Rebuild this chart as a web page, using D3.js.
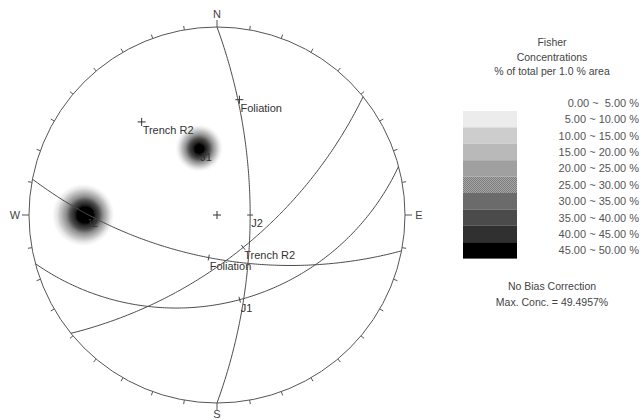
<!DOCTYPE html>
<html>
<head>
<meta charset="utf-8">
<script src="https://cdn.jsdelivr.net/npm/d3@7"></script>
<style>
    body { margin: 0; background: #fff; }
    text { font-family: "Liberation Sans", Arial, sans-serif; }
</style>
</head>
<body>
<div id="chart"></div>
<script>
// planes (dip direction / dip, degrees)
const planeNames = ["Foliation", "Trench R2", "J1", "J2"];
const planeDipDirs = [191, 141, 165, 90];
const planeDips = [64, 65, 40, 70];
// poles drawn as a cross (the others sit under the concentrations)
const poleCrossed = [true, true, false, false];

// pole concentrations
const clusterTrends = [345, 270];
const clusterPlunges = [50, 20];
const clusterPeaks = [47.5, 49.4957];
const clusterSpread = 9.0; // degrees

// legend
const binLower = [0, 5, 10, 15, 20, 25, 30, 35, 40, 45];
const binLabels = ["0.00 ~  5.00 %", "5.00 ~ 10.00 %", "10.00 ~ 15.00 %", "15.00 ~ 20.00 %",
    "20.00 ~ 25.00 %", "25.00 ~ 30.00 %", "30.00 ~ 35.00 %", "35.00 ~ 40.00 %",
    "40.00 ~ 45.00 %", "45.00 ~ 50.00 %"];
const binColors = ["#ffffff", "#ececec", "#cdcdcd", "#b9b9b9", "#a0a0a0", "url(#checker)",
    "#6b6b6b", "#4b4b4b", "#303030", "#000000"];
const legendTitle = ["Fisher", "Concentrations", "% of total per 1.0 % area"];
const legendNotes = ["No Bias Correction", "Max. Conc. = 49.4957%"];
const compass = [["N", 0], ["E", 90], ["S", 180], ["W", 270]];

const width = 641, height = 420;
const cx = 217, cy = 215, R = 188;
const rad = Math.PI / 180;

const svg = d3.select("#chart").append("svg")
    .attr("width", width)
    .attr("height", height)
    .style("display", "block");

const defs = svg.append("defs");
const pat = defs.append("pattern")
    .attr("id", "checker")
    .attr("width", 2).attr("height", 2)
    .attr("patternUnits", "userSpaceOnUse");
pat.append("rect").attr("width", 2).attr("height", 2).attr("fill", "#a6a6a6");
pat.append("rect").attr("width", 1).attr("height", 1).attr("fill", "#7c7c7c");
pat.append("rect").attr("x", 1).attr("y", 1).attr("width", 1).attr("height", 1).attr("fill", "#7c7c7c");
defs.append("filter").attr("id", "soft")
    .append("feGaussianBlur").attr("stdDeviation", 1.3);
defs.append("clipPath").attr("id", "net")
    .append("circle").attr("cx", cx).attr("cy", cy).attr("r", R);

// equal angle, lower hemisphere
const rScale = d3.scaleLinear().domain([0, 1]).range([0, R]);
function project(trend, plunge) {
    const r = rScale(Math.tan((90 - plunge) / 2 * rad));
    return [cx + r * Math.sin(trend * rad), cy - r * Math.cos(trend * rad)];
}

// concentration grid
const n = 2 * R + 1;
const x0 = cx - R, y0 = cy - R;
const cVecs = clusterTrends.map((t, i) => {
    const p = clusterPlunges[i] * rad;
    return [Math.cos(p) * Math.cos(t * rad), Math.cos(p) * Math.sin(t * rad), Math.sin(p)];
});
const values = new Float64Array(n * n);
for (let j = 0; j < n; j++) {
    for (let i = 0; i < n; i++) {
        const dx = rScale.invert(x0 + i + 0.5 - cx), dy = rScale.invert(cy - (y0 + j + 0.5));
        const r = Math.hypot(dx, dy);
        if (r > 1) continue;
        const phi = 2 * Math.atan(r);
        const s = r > 0 ? Math.sin(phi) / r : 0;
        const v = [s * dy, s * dx, Math.cos(phi)];
        let best = 0;
        cVecs.forEach((c, k) => {
            const d = Math.min(1, Math.abs(v[0] * c[0] + v[1] * c[1] + v[2] * c[2]));
            const th = Math.acos(d) / rad;
            best = Math.max(best, clusterPeaks[k] * Math.exp(-Math.pow(th / clusterSpread, 3)));
        });
        values[j * n + i] = best;
    }
}
const contours = d3.contours().size([n, n]).thresholds(binLower.slice(1))(values);
const color = d3.scaleThreshold().domain(binLower.slice(1)).range(binColors);

svg.append("g")
    .attr("clip-path", "url(#net)")
    .append("g")
    .attr("filter", "url(#soft)")
    .attr("transform", `translate(${x0},${y0})`)
    .selectAll("path")
    .data(contours)
    .join("path")
    .attr("d", d3.geoPath())
    .attr("fill", d => color(d.value));

// primitive circle and ticks
svg.append("circle")
    .attr("cx", cx).attr("cy", cy).attr("r", R)
    .attr("fill", "none").attr("stroke", "#555").attr("stroke-width", 1);

svg.append("g").selectAll("line")
    .data(d3.range(0, 360, 10))
    .join("line")
    .attr("x1", a => cx + R * Math.sin(a * rad))
    .attr("y1", a => cy - R * Math.cos(a * rad))
    .attr("x2", a => cx + (R + (a % 90 === 0 ? 7 : 4)) * Math.sin(a * rad))
    .attr("y2", a => cy - (R + (a % 90 === 0 ? 7 : 4)) * Math.cos(a * rad))
    .attr("stroke", "#555");

svg.append("g").selectAll("text")
    .data(compass)
    .join("text")
    .attr("x", d => cx + (R + 14) * Math.sin(d[1] * rad))
    .attr("y", d => d[0] === "S" ? 418 : cy - (R + 13) * Math.cos(d[1] * rad) + 4)
    .attr("text-anchor", "middle")
    .attr("font-size", 11)
    .attr("fill", "#444")
    .text(d => d[0]);

// centre cross
svg.append("path")
    .attr("d", `M${cx - 4},${cy}H${cx + 4}M${cx},${cy - 4}V${cy + 4}`)
    .attr("stroke", "#333");

// great circles
const line = d3.line();
planeNames.forEach((name, i) => {
    const dd = planeDipDirs[i], dip = planeDips[i] * rad, st = (dd - 90) * rad;
    const s = [Math.cos(st), Math.sin(st), 0];
    const d = [Math.cos(dip) * Math.cos(dd * rad), Math.cos(dip) * Math.sin(dd * rad), Math.sin(dip)];
    const pts = d3.range(0, 180.5, 1).map(a => {
        const c = Math.cos(a * rad), sn = Math.sin(a * rad);
        const v = [c * s[0] + sn * d[0], c * s[1] + sn * d[1], c * s[2] + sn * d[2]];
        const plunge = Math.asin(Math.max(-1, Math.min(1, v[2]))) / rad;
        const trend = Math.atan2(v[1], v[0]) / rad;
        return project(trend, plunge);
    });
    svg.append("path")
        .attr("d", line(pts))
        .attr("fill", "none")
        .attr("stroke", "#4a4a4a")
        .attr("stroke-width", 1);

    // dip vector tick and label
    const [px, py] = project(dd, planeDips[i]);
    const ux = Math.sin(dd * rad), uy = -Math.cos(dd * rad);
    svg.append("line")
        .attr("x1", px - 3 * ux).attr("y1", py - 3 * uy)
        .attr("x2", px + 3 * ux).attr("y2", py + 3 * uy)
        .attr("stroke", "#444");
    svg.append("text")
        .attr("x", px + 1).attr("y", py + 12)
        .attr("font-size", 11).attr("fill", "#333")
        .text(name);

    // pole
    const [qx, qy] = project((dd + 180) % 360, 90 - planeDips[i]);
    if (poleCrossed[i]) {
        svg.append("path")
            .attr("d", `M${qx - 4},${qy}H${qx + 4}M${qx},${qy - 4}V${qy + 4}`)
            .attr("stroke", "#333");
    }
    svg.append("text")
        .attr("x", qx + 1).attr("y", qy + 12)
        .attr("font-size", 11).attr("fill", "#333")
        .text(name);
});

// legend
const lg = svg.append("g");
lg.selectAll("text.title")
    .data(legendTitle)
    .join("text")
    .attr("class", "title")
    .attr("x", 552).attr("y", (d, i) => 46 + i * 14.5)
    .attr("text-anchor", "middle")
    .attr("font-size", 10.5).attr("fill", "#444")
    .text(d => d);

const rowY = d3.scaleLinear().domain([0, 1]).range([94.6, 111]);
lg.selectAll("rect")
    .data(binLower)
    .join("rect")
    .attr("x", 463).attr("y", (d, i) => rowY(i))
    .attr("width", 54).attr("height", 16.4)
    .attr("fill", (d, i) => binColors[i]);

lg.selectAll("text.bin")
    .data(binLabels)
    .join("text")
    .attr("class", "bin")
    .attr("x", 639).attr("y", (d, i) => rowY(i) + 12.2)
    .attr("text-anchor", "end")
    .attr("font-size", 11).attr("fill", "#555")
    .style("white-space", "pre")
    .text(d => d);

lg.selectAll("text.note")
    .data(legendNotes)
    .join("text")
    .attr("class", "note")
    .attr("x", 552).attr("y", (d, i) => 290 + i * 15.5)
    .attr("text-anchor", "middle")
    .attr("font-size", 10.5).attr("fill", "#444")
    .text(d => d);
</script>
</body>
</html>
